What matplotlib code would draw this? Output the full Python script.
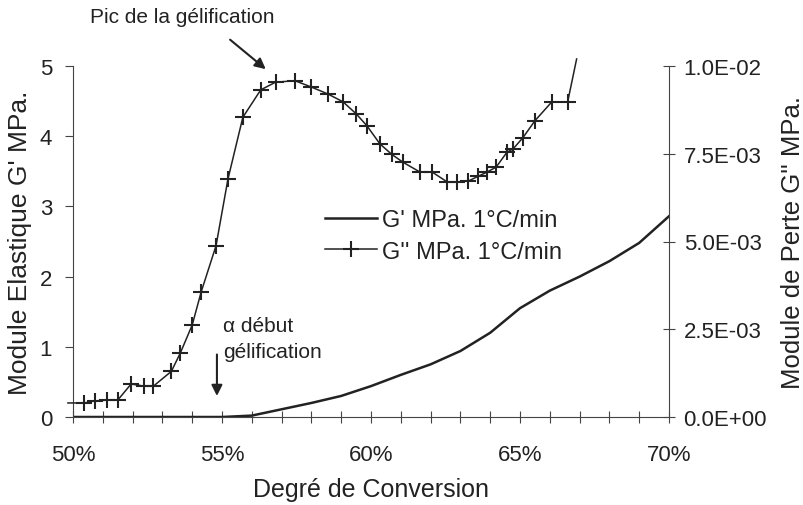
import numpy as np
import matplotlib
matplotlib.use('Agg')
from matplotlib import pyplot as plt
from matplotlib.ticker import MultipleLocator, FuncFormatter

plt.rcParams['font.family'] = ['Liberation Sans', 'DejaVu Sans']

ink = '#222222'

# G' - module elastique (axe gauche, MPa)
conv_g1 = [50, 55, 56, 57, 58, 59, 60, 61, 62, 63, 64, 65, 66, 67, 68, 69, 70]
g1_mpa = [0, 0, 0.02, 0.11, 0.2, 0.3, 0.44, 0.6, 0.75, 0.94, 1.2, 1.55, 1.8, 2.0, 2.22, 2.48, 2.86]

# G'' - module de perte (axe droit, en E-03 MPa)
conv_g2 = [49.83, 50.37, 50.74, 51.13, 51.5, 51.95, 52.38, 52.7, 53.3, 53.6,
           54.0, 54.3, 54.8, 55.2, 55.7, 56.3, 56.8, 57.45, 58.0, 58.56,
           59.06, 59.5, 59.86, 60.3, 60.7, 61.07, 61.64, 62.05, 62.55, 62.9,
           63.26, 63.6, 63.9, 64.2, 64.56, 64.77, 65.1, 65.5, 66.07, 66.6, 66.9]
g2_e3 = [0.4, 0.4, 0.46, 0.48, 0.48, 0.94, 0.88, 0.88, 1.30, 1.82,
         2.62, 3.56, 4.88, 6.78, 8.54, 9.32, 9.54, 9.58, 9.40, 9.20,
         8.98, 8.64, 8.30, 7.78, 7.48, 7.26, 6.98, 6.98, 6.70, 6.70,
         6.72, 6.86, 6.98, 7.12, 7.54, 7.64, 7.96, 8.44, 8.98, 8.98, 10.2]
g2_mpa = np.array(g2_e3) * 1e-3

fig = plt.figure(figsize=(8.04, 5.06), dpi=100)
ax = fig.add_axes([73/804, 1 - 418/506, 596/804, 351/506])
ax2 = ax.twinx()

l1, = ax.plot(conv_g1, g1_mpa, color=ink, lw=1.8, label="G' MPa. 1°C/min")
l2, = ax2.plot(conv_g2, g2_mpa, color=ink, lw=1.1, marker='+', markersize=12,
               markeredgewidth=1.5, markevery=slice(1, -1), clip_on=False,
               label="G'' MPa. 1°C/min")

ax.set_xlim(50, 70)
ax.set_ylim(0, 5)
ax2.set_ylim(0, 0.01)

ax.xaxis.set_major_locator(MultipleLocator(5))
ax.xaxis.set_minor_locator(MultipleLocator(1))
ax.xaxis.set_major_formatter(FuncFormatter(lambda v, p: f'{v:.0f}%'))
ax.yaxis.set_major_locator(MultipleLocator(1))
ax2.yaxis.set_major_locator(MultipleLocator(0.0025))
ax2.yaxis.set_major_formatter(FuncFormatter(lambda v, p: f'{v:.1E}'))

ax.tick_params(axis='x', which='both', direction='inout', length=9, width=0.8,
               color='#444444', labelsize=16, labelcolor=ink, pad=15)
ax.tick_params(axis='y', direction='out', length=6, width=0.8, color='#444444',
               labelsize=16, labelcolor=ink, pad=9)
ax2.tick_params(axis='y', direction='inout', length=9, width=0.8, color='#444444',
                labelsize=16, labelcolor=ink, pad=6)

for s in ['top', 'right']:
    ax.spines[s].set_visible(False)
for s in ['top', 'left', 'bottom']:
    ax2.spines[s].set_visible(False)
for sp in [ax.spines['left'], ax.spines['bottom'], ax2.spines['right']]:
    sp.set_linewidth(0.8)
    sp.set_color('#444444')

ax.set_xlabel('Degré de Conversion', fontsize=18, color=ink)
ax.xaxis.set_label_coords(0.5, -0.205)
ax.xaxis.label.set_verticalalignment('center')
ax.set_ylabel("Module Elastique G' MPa.", fontsize=19, color=ink)
ax.yaxis.set_label_coords(-0.089, 0.5)
ax.yaxis.label.set_verticalalignment('center')
ax2.set_ylabel("Module de Perte G'' MPa.", fontsize=18.5, color=ink, rotation=90)
ax2.yaxis.set_label_coords(1.208, 0.5)
ax2.yaxis.label.set_verticalalignment('center')

ax2.legend(handles=[l1, l2], loc='center left', bbox_to_anchor=(325/804, 1 - 237/506),
           bbox_transform=fig.transFigure, frameon=False, fontsize=17,
           handlelength=2.2, handletextpad=0.2, labelspacing=0.4,
           borderpad=0, borderaxespad=0, numpoints=1, labelcolor=ink)

arrow = dict(arrowstyle='-|>', color=ink, lw=1.5, mutation_scale=16)
ax.annotate('', xy=(56.54, 4.93), xytext=(55.2, 5.4), arrowprops=arrow,
            annotation_clip=False)
ax.text(50.57, 5.70, 'Pic de la gélification', fontsize=15, color=ink,
        ha='left', va='center', clip_on=False)

ax.annotate('', xy=(54.83, 0.26), xytext=(54.83, 0.93), arrowprops=arrow)
ax.text(55.03, 1.31, 'α début', fontsize=15, color=ink, ha='left', va='center')
ax.text(55.03, 0.93, 'gélification', fontsize=15, color=ink, ha='left', va='center')

fig.savefig('out.png', dpi=100)
